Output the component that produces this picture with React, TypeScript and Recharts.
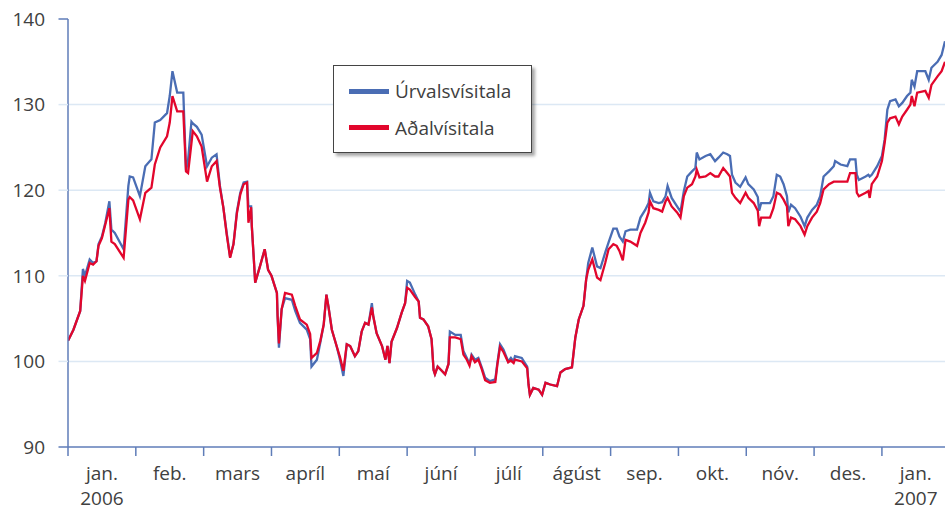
import { CartesianGrid, Line, LineChart, XAxis, YAxis } from "recharts"

// month offset from 1 Jan 2006 (1 unit = 1 month)
const monthPos = [
  0, 0.08, 0.18, 0.22, 0.25, 0.32, 0.37, 0.42, 0.45, 0.5, 0.55, 0.61, 0.64, 0.69, 0.82, 0.89, 0.91, 0.96,
  1.06, 1.14, 1.23, 1.28, 1.36, 1.46, 1.5, 1.54, 1.61, 1.7, 1.74, 1.77, 1.82, 1.84, 1.9, 1.97,
  2.05, 2.12, 2.19, 2.24, 2.29, 2.34, 2.39, 2.44, 2.49, 2.54, 2.59, 2.64, 2.66, 2.7, 2.71, 2.74, 2.76, 2.83, 2.9, 2.95,
  3.0, 3.08, 3.09, 3.11, 3.15, 3.2, 3.3, 3.35, 3.42, 3.52, 3.57, 3.59, 3.67, 3.72, 3.77, 3.81, 3.84, 3.89, 3.96,
  4.01, 4.06, 4.11, 4.16, 4.23, 4.28, 4.33, 4.38, 4.43, 4.48, 4.5, 4.55, 4.63, 4.68, 4.71, 4.74, 4.77, 4.85, 4.92, 4.97,
  5.0, 5.04, 5.12, 5.17, 5.19, 5.24, 5.31, 5.36, 5.39, 5.41, 5.45, 5.5, 5.56, 5.61, 5.63, 5.71, 5.79, 5.83, 5.88, 5.92, 5.95,
  6.0, 6.05, 6.1, 6.15, 6.22, 6.3, 6.33, 6.37, 6.42, 6.49, 6.53, 6.57, 6.59, 6.69, 6.77, 6.79, 6.81, 6.86, 6.94, 6.99,
  7.04, 7.11, 7.21, 7.26, 7.33, 7.43, 7.48, 7.53, 7.6, 7.64, 7.67, 7.73, 7.8, 7.85, 7.92, 7.97,
  8.04, 8.09, 8.13, 8.18, 8.22, 8.29, 8.39, 8.44, 8.51, 8.56, 8.58, 8.63, 8.71, 8.76, 8.81, 8.84, 8.9, 8.98,
  9.03, 9.08, 9.13, 9.2, 9.25, 9.27, 9.31, 9.4, 9.47, 9.54, 9.59, 9.66, 9.72, 9.76, 9.79, 9.84, 9.91, 9.99,
  10.03, 10.11, 10.17, 10.19, 10.22, 10.35, 10.4, 10.45, 10.5, 10.55, 10.6, 10.62, 10.66, 10.72, 10.8, 10.86, 10.9, 10.97,
  11.04, 11.09, 11.14, 11.22, 11.29, 11.31, 11.39, 11.49, 11.53, 11.61, 11.63, 11.66, 11.76, 11.8, 11.82, 11.85, 11.93,
  12.0, 12.04, 12.08, 12.12, 12.2, 12.25, 12.3, 12.37, 12.42, 12.44, 12.48, 12.52, 12.64, 12.69, 12.73, 12.82, 12.88, 12.93,
]

const urvalsvisitala = [
  102.4, 103.7, 105.9, 110.8, 110.0, 111.9, 111.5, 111.7, 113.7, 114.6, 116.2, 118.7, 115.4, 115.0, 113.1, 120.5, 121.6, 121.5,
  119.3, 122.8, 123.6, 127.9, 128.2, 129.0, 131.0, 133.9, 131.4, 131.4, 122.3, 123.5, 128.0, 127.8, 127.4, 126.5,
  122.8, 123.8, 124.2, 120.5, 118.0, 115.0, 112.2, 113.7, 117.5, 119.7, 120.9, 121.0, 118.1, 118.1, 115.8, 111.9, 109.2, 111.1, 113.1, 110.7,
  110.0, 108.0, 105.3, 101.6, 106.1, 107.4, 107.2, 105.9, 104.5, 103.7, 102.6, 99.4, 100.2, 102.2, 104.3, 107.8, 106.4, 103.7, 101.8,
  100.2, 98.3, 102.0, 101.8, 100.6, 101.2, 103.5, 104.5, 104.3, 106.8, 105.3, 103.3, 101.8, 100.2, 101.8, 99.8, 102.3, 103.9, 105.7, 106.8,
  109.4, 109.2, 107.8, 107.0, 105.1, 104.9, 104.1, 102.6, 99.0, 98.5, 99.4, 99.0, 98.5, 99.7, 103.5, 103.1, 103.1, 101.2, 100.4, 99.7, 100.8,
  100.2, 100.4, 99.3, 98.1, 97.7, 97.9, 99.8, 102.0, 101.4, 100.0, 100.4, 100.0, 100.6, 100.4, 99.4, 97.3, 96.1, 96.9, 96.7, 96.1,
  97.5, 97.3, 97.1, 98.7, 99.1, 99.3, 102.8, 104.9, 106.5, 109.6, 111.5, 113.3, 111.1, 110.9, 112.7, 113.9,
  115.5, 115.5, 114.6, 114.0, 115.2, 115.4, 115.4, 116.8, 117.7, 118.5, 119.7, 118.7, 118.5, 118.6, 119.3, 120.5, 119.1, 118.1,
  117.5, 119.9, 121.6, 122.2, 122.6, 124.4, 123.6, 124.0, 124.2, 123.4, 123.8, 124.4, 124.2, 124.0, 121.8, 120.9, 120.4, 121.5,
  120.7, 120.1, 119.2, 117.6, 118.5, 118.5, 119.3, 121.8, 121.6, 120.7, 119.3, 117.4, 118.3, 117.9, 116.9, 115.8, 116.8, 117.7,
  118.3, 119.3, 121.6, 122.2, 122.8, 123.4, 123.0, 122.8, 123.6, 123.6, 121.8, 121.2, 121.6, 121.8, 121.6, 121.8, 122.8,
  124.0, 125.9, 129.4, 130.4, 130.6, 129.8, 130.2, 131.0, 131.4, 132.9, 132.1, 133.9, 133.9, 132.9, 134.3, 135.0, 135.8, 137.4,
]

const adalvisitala = [
  102.4, 103.7, 105.9, 110.0, 109.4, 111.5, 111.3, 111.7, 113.5, 114.4, 116.0, 117.9, 114.0, 113.7, 112.1, 118.9, 119.2, 118.8,
  116.6, 119.7, 120.3, 123.0, 125.0, 126.3, 127.9, 131.0, 129.2, 129.2, 122.2, 122.0, 125.5, 126.9, 126.3, 125.1,
  121.0, 122.8, 123.4, 120.3, 118.0, 114.8, 112.1, 113.7, 117.3, 119.5, 120.7, 120.9, 116.2, 118.0, 115.8, 111.9, 109.2, 111.1, 113.1, 110.7,
  110.0, 108.0, 105.3, 102.1, 106.1, 108.0, 107.8, 106.5, 104.9, 104.3, 103.2, 100.4, 101.0, 102.4, 104.3, 107.8, 106.4, 103.7, 101.8,
  100.5, 98.9, 102.0, 101.8, 100.6, 101.2, 103.5, 104.5, 104.3, 106.3, 105.3, 103.3, 101.8, 100.2, 101.8, 99.8, 102.3, 103.9, 105.7, 106.8,
  108.6, 108.4, 107.5, 107.0, 105.1, 104.9, 104.1, 102.6, 99.0, 98.5, 99.4, 99.0, 98.5, 99.7, 102.8, 102.8, 102.6, 100.8, 100.2, 99.5, 100.6,
  99.9, 100.2, 99.1, 97.8, 97.5, 97.6, 99.6, 101.7, 101.1, 99.9, 100.1, 99.8, 100.2, 100.0, 99.2, 97.3, 96.1, 96.9, 96.7, 96.1,
  97.5, 97.3, 97.1, 98.7, 99.1, 99.3, 102.8, 104.9, 106.5, 109.6, 110.7, 111.9, 109.8, 109.5, 111.5, 113.1,
  113.7, 113.5, 112.9, 111.8, 114.2, 114.0, 113.5, 115.0, 116.2, 117.4, 118.7, 117.9, 117.7, 117.5, 118.7, 119.1, 118.1, 117.4,
  116.8, 119.3, 120.3, 120.7, 121.6, 122.4, 121.5, 121.6, 122.0, 121.6, 121.6, 122.6, 122.0, 121.6, 119.7, 119.1, 118.5, 119.7,
  119.1, 118.5, 117.6, 115.8, 116.8, 116.8, 117.9, 119.7, 119.5, 118.9, 118.1, 115.8, 116.8, 116.6, 115.8, 114.8, 115.8, 116.8,
  117.5, 118.5, 120.1, 120.7, 121.0, 121.0, 121.0, 121.0, 122.0, 122.0, 119.7, 119.3, 119.7, 119.9, 119.1, 120.7, 121.6,
  123.4, 125.5, 127.9, 128.4, 128.6, 127.7, 128.6, 129.4, 130.0, 131.0, 129.8, 131.4, 131.6, 130.8, 132.3, 133.3, 133.9, 135.0,
]

const monthLabels = ["jan.", "feb.", "mars", "apríl", "maí", "júní", "júlí", "ágúst", "sep.", "okt.", "nóv.", "des.", "jan."]
const yearLabels: Record<number, string> = { 0: "2006", 12: "2007" }
const monthTicks = monthLabels.map((_, i) => i)
const yTicks = [90, 100, 110, 120, 130, 140]
const gridValues = [100, 110, 120, 130]

const WIDTH = 945
const HEIGHT = 510
const AXIS_W = 68
const X_MAX = 12.93
const HALF_MONTH = (WIDTH - AXIS_W) / X_MAX / 2

const FONT = "'Open Sans', sans-serif"
const TEXT = "#404040"
const AXIS = "#5f7db8"
const GRID = "#dce8f4"
const BLUE = "#4a6db4"
const RED = "#e2062c"

const rows = monthPos.map((m, i) => ({
  m,
  urvals: urvalsvisitala[i],
  adal: adalvisitala[i],
}))

function YTick(props: any) {
  const { x, y, payload } = props
  const edge = payload.value === 90 || payload.value === 140
  return (
    <g>
      <line x1={x - 9.5} x2={x} y1={y} y2={y} stroke={edge ? AXIS : GRID} strokeWidth={1.5} />
      <text x={x - 23} y={y} dy="0.36em" textAnchor="end" fontSize={19} fontFamily={FONT} fill={TEXT}>
        {payload.value}
      </text>
    </g>
  )
}

function XTick(props: any) {
  const { x, y, payload } = props
  const i = payload.value as number
  return (
    <g>
      <line x1={x} x2={x} y1={y} y2={y + 9} stroke={AXIS} strokeWidth={1.5} />
      <text x={x + HALF_MONTH} y={y + 33} textAnchor="middle" fontSize={19} fontFamily={FONT} fill={TEXT}>
        {monthLabels[i]}
      </text>
      {yearLabels[i] ? (
        <text x={x + HALF_MONTH} y={y + 57.5} textAnchor="middle" fontSize={19} fontFamily={FONT} fill={TEXT}>
          {yearLabels[i]}
        </text>
      ) : null}
    </g>
  )
}

function LegendBox() {
  const items = [
    { name: "Úrvalsvísitala", color: BLUE },
    { name: "Aðalvísitala", color: RED },
  ]
  return (
    <div
      style={{
        position: "absolute",
        left: 333,
        top: 65,
        width: 197,
        height: 86,
        background: "#fff",
        border: "1px solid #444",
        boxShadow: "3px 3px 3px rgba(0,0,0,0.35)",
        fontFamily: FONT,
        fontSize: 19,
        color: TEXT,
      }}
    >
      {items.map((item, i) => (
        <div
          key={item.name}
          style={{ position: "absolute", left: 15, top: 12 + i * 36.5, display: "flex", alignItems: "center", height: 26 }}
        >
          <span style={{ display: "inline-block", width: 40, height: 5, background: item.color, marginRight: 6 }} />
          <span>{item.name}</span>
        </div>
      ))}
    </div>
  )
}

export default function App() {
  return (
    <div style={{ position: "absolute", left: 0, top: 0, width: WIDTH, height: HEIGHT, background: "#fff" }}>
      <LineChart width={WIDTH} height={HEIGHT} data={rows} margin={{ top: 19, right: 0, bottom: 0, left: 0 }}>
        <CartesianGrid vertical={false} stroke={GRID} strokeWidth={1.5} horizontalValues={gridValues} />
        <XAxis
          dataKey="m"
          type="number"
          domain={[0, X_MAX]}
          ticks={monthTicks}
          interval={0}
          height={63}
          axisLine={{ stroke: AXIS, strokeWidth: 1.5 }}
          tickLine={false}
          tickSize={0}
          tickMargin={0}
          tick={<XTick />}
          allowDataOverflow
        />
        <YAxis
          domain={[90, 140]}
          ticks={yTicks}
          interval={0}
          width={AXIS_W}
          axisLine={{ stroke: AXIS, strokeWidth: 1.5 }}
          tickLine={false}
          tickSize={0}
          tickMargin={0}
          tick={<YTick />}
        />
        <Line
          dataKey="urvals"
          type="linear"
          stroke={BLUE}
          strokeWidth={2.3}
          dot={false}
          isAnimationActive={false}
        />
        <Line
          dataKey="adal"
          type="linear"
          stroke={RED}
          strokeWidth={2.3}
          dot={false}
          isAnimationActive={false}
        />
      </LineChart>
      <LegendBox />
    </div>
  )
}
